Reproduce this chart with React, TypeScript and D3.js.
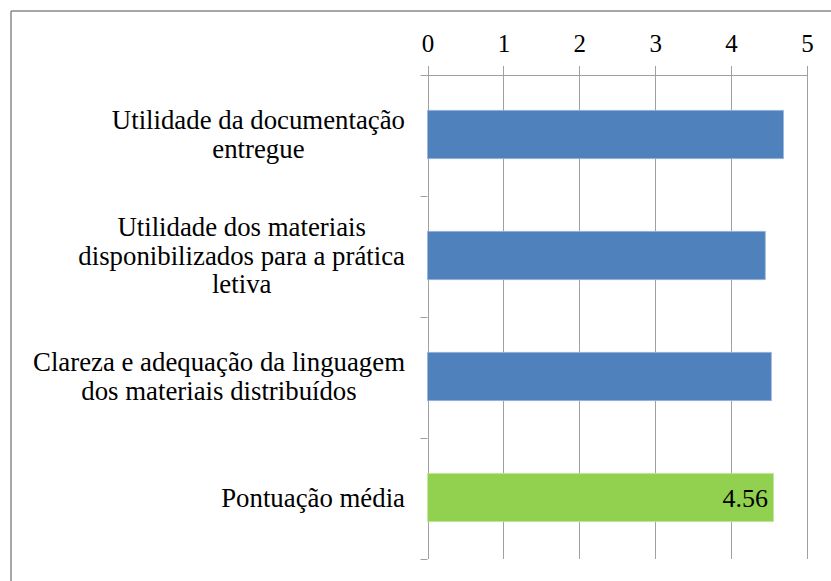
import React, { useLayoutEffect, useRef, useState } from "react";
import * as d3 from "d3";

const categories: string[][] = [
  ["Utilidade da documentação", "entregue"],
  ["Utilidade dos materiais", "disponibilizados para a prática", "letiva"],
  ["Clareza e adequação da linguagem", "dos materiais distribuídos"],
  ["Pontuação média"],
];
const values: number[] = [4.69, 4.45, 4.53, 4.56];
const barColors: string[] = ["#4F81BD", "#4F81BD", "#4F81BD", "#92D050"];
const barStrokes: string[] = ["#9ab5dc", "#9ab5dc", "#9ab5dc", "#c5e8a0"];
const dataLabels: (string | null)[] = [null, null, null, "4.56"];
const xTicks: number[] = [0, 1, 2, 3, 4, 5];

const W = 831;
const H = 581;
const FONT = '"Liberation Serif"';

export default function App() {
  const left = 427.5;
  const right = 807;
  const top = 75;
  const bottom = 559;
  const x = d3.scaleLinear().domain([0, 5]).range([left, right]);
  const keys = categories.map((c) => c.join(" "));
  const y = d3.scaleBand<string>().domain(keys).range([top, bottom]).padding(0);
  const bh = y.bandwidth() * 0.4;
  const lh = 28.5;
  const labelRight = 405;
  const grid = "#a0a0a0";

  const groupRefs = useRef<(SVGGElement | null)[]>([]);
  const [widths, setWidths] = useState<number[]>(categories.map(() => 0));

  useLayoutEffect(() => {
    const ws = groupRefs.current.map((g) => {
      if (!g) return 0;
      const ts = Array.from(g.querySelectorAll("text")) as SVGTextElement[];
      return d3.max(ts, (t) => t.getComputedTextLength()) || 0;
    });
    setWidths(ws);
  }, []);

  return (
    <svg width={W} height={H} style={{ position: "absolute", left: 0, top: 0, display: "block" }}>
      <rect width={W} height={H} fill="#fff" />
      <line x1={11} x2={W} y1={11} y2={11} stroke="#8a8a8a" strokeWidth={1.5} />
      <line x1={11} x2={11} y1={11} y2={H} stroke="#8a8a8a" strokeWidth={1.5} />

      {xTicks.map((t) => (
        <line key={"g" + t} x1={Math.round(x(t)) + 0.5} x2={Math.round(x(t)) + 0.5} y1={top - 9} y2={bottom} stroke={grid} />
      ))}
      <line x1={left - 7} x2={right} y1={top + 0.5} y2={top + 0.5} stroke={grid} />
      <line x1={Math.round(left) + 0.5} x2={Math.round(left) + 0.5} y1={top} y2={bottom} stroke={grid} />
      {keys.map((k) => {
        const yy = Math.round((y(k) as number) + y.bandwidth()) + 0.5;
        return <line key={"t" + k} x1={left - 7} x2={left} y1={yy} y2={yy} stroke={grid} />;
      })}

      {xTicks.map((t) => (
        <text key={"l" + t} x={x(t) + 0.5} y={52} textAnchor="middle" fill="#000" style={{ fontFamily: FONT, fontSize: "25px" }}>
          {t}
        </text>
      ))}

      {values.map((v, i) => (
        <rect
          key={"b" + i}
          x={x(0)}
          width={x(v) - x(0)}
          y={(y(keys[i]) as number) + y.bandwidth() / 2 - bh / 2 - 1}
          height={bh}
          fill={barColors[i]}
          stroke={barStrokes[i]}
          strokeWidth={0.8}
        />
      ))}

      {values.map((v, i) =>
        dataLabels[i] ? (
          <text
            key={"d" + i}
            x={x(v) - 5.5}
            y={(y(keys[i]) as number) + y.bandwidth() / 2 + 8.5}
            textAnchor="end"
            fill="#000"
            style={{ fontFamily: FONT, fontSize: "26px" }}
          >
            {dataLabels[i]}
          </text>
        ) : null
      )}

      {categories.map((lines, i) => {
        const cy = (y(keys[i]) as number) + y.bandwidth() / 2;
        const cx = labelRight - widths[i] / 2;
        return (
          <g key={"c" + i} ref={(el) => { groupRefs.current[i] = el; }}>
            {lines.map((ln, j) => (
              <text
                key={j}
                x={cx}
                y={cy - ((lines.length - 1) * lh) / 2 + j * lh + 8}
                textAnchor="middle"
                fill="#000"
                style={{ fontFamily: FONT, fontSize: "26.8px" }}
              >
                {ln}
              </text>
            ))}
          </g>
        );
      })}
    </svg>
  );
}
